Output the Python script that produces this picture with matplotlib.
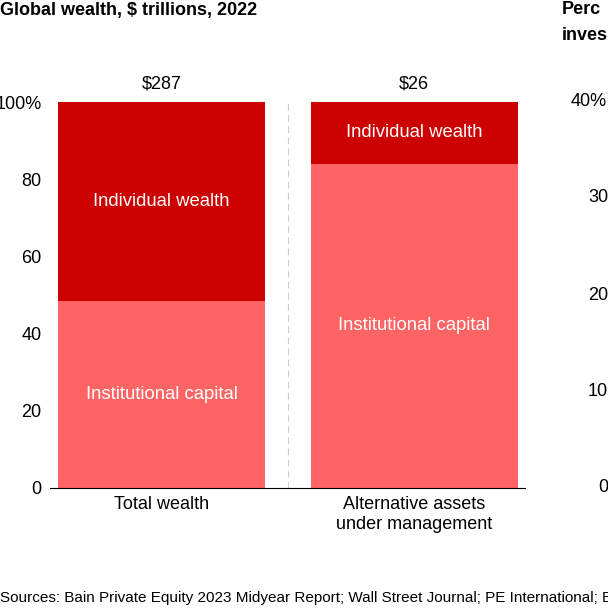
import matplotlib
matplotlib.use("Agg")
import matplotlib.pyplot as plt

categories = ["Total wealth", "Alternative assets\nunder management"]
totals = ["$287", "$26"]
institutional = [48.5, 84.0]
individual = [51.5, 16.0]
yticks = [0, 20, 40, 60, 80, 100]
ytick_labels = ["0", "20", "40", "60", "80", "100%"]

plt.rcParams['font.family'] = ['Liberation Sans', 'DejaVu Sans']
fig = plt.figure(figsize=(6.08, 6.08), dpi=100)
ax = fig.add_axes([50/608, 120/608, 475/608, 386/608])
xs = [161.5, 414]
w = 207
light, dark = "#ff6464", "#cc0000"
ax.bar(xs, institutional, width=w, color=light)
ax.bar(xs, individual, bottom=institutional, width=w, color=dark)
for x, ins, ind, t in zip(xs, institutional, individual, totals):
    ax.text(x, ins/2, "Institutional capital", ha="center", va="center", color="white", fontsize=13.3)
    ax.text(x, ins + ind/2, "Individual wealth", ha="center", va="center", color="white", fontsize=13.3)
    ax.text(x, 102.5, t, ha="center", va="bottom", fontsize=13)
ax.axvline(288, color="#cccccc", lw=0.8, ls=(0, (6, 4)))
ax.set_xlim(50, 525)
ax.set_ylim(0, 100)
ax.set_yticks(yticks)
ax.set_yticklabels(ytick_labels, fontsize=13)
ax.set_xticks(xs)
ax.set_xticklabels(categories, fontsize=13, va="top")
ax.tick_params(length=0, pad=6)
for s in ["left", "right", "top"]:
    ax.spines[s].set_visible(False)
ax.spines["bottom"].set_color("black")
ax.spines["bottom"].set_linewidth(0.8)

fig.text(0, 1 - 10/608, "Global wealth, $ trillions, 2022", fontsize=13, fontweight="bold", va="center")
fig.text(562/608, 1 - 10/608, "Perc", fontsize=13, fontweight="bold", va="center")
fig.text(562/608, 1 - 35/608, "inves", fontsize=13, fontweight="bold", va="center")
for lab, px, py in zip(["40%", "30", "20", "10", "0"], [571, 588, 588, 588, 598], [102, 198, 295, 392, 488]):
    fig.text(px/608, 1 - py/608, lab, fontsize=13, va="center")
fig.text(0, 1 - 598/608, "Sources: Bain Private Equity 2023 Midyear Report; Wall Street Journal; PE International; Bl",
         fontsize=11, va="center")
fig.savefig("out.png", dpi=100, facecolor="white")
